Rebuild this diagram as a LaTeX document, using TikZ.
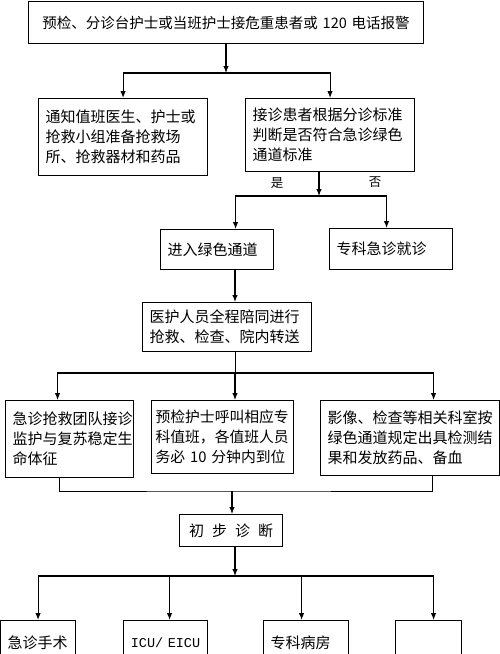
\documentclass[tikz,border=0pt]{standalone}
\usepackage{fontspec}
\newfontfamily\cjk{Noto Sans CJK SC}
\newfontfamily\monofont{Liberation Mono}
\usepackage{tikz}
\usetikzlibrary{arrows.meta}
\tikzset{box/.style={draw, line width=1.1pt, align=left, anchor=north west, inner xsep=7pt, inner ysep=2pt, font=\cjk\fontsize{15}{20}\selectfont}}
\tikzset{link/.style={->, line width=1.1pt}}
\tikzset{tag/.style={font=\cjk\fontsize{12.5}{14}\selectfont}}

\begin{document}
\begin{tikzpicture}[x=1pt, y=-1pt, >={Latex[length=7pt,width=5.5pt]}]
    \useasboundingbox[fill=white] (0,0) rectangle (500,654);

    \node[box, align=center, text width=381pt, minimum height=42pt, font=\cjk\fontsize{14.5}{20}\selectfont] at (28,1) (alarm){预检、分诊台护士或当班护士接危重患者或 120 电话报警};

    \node[box, text width=155pt, minimum height=77pt] at (38,98) (notify){通知值班医生、护士或\\抢救小组准备抢救场\\所、抢救器材和药品};
    \node[box, text width=155pt, minimum height=73pt] at (245,98) (judge){接诊患者根据分诊标准\\判断是否符合急诊绿色\\通道标准};

    \node[box, text width=99pt, minimum height=40pt] at (160,229) (green){进入绿色通道};
    \node[box, text width=109pt, minimum height=41pt] at (329,228) (special){专科急诊就诊};

    \node[box, text width=155pt, minimum height=49pt] at (142,302) (escort){医护人员全程陪同进行\\抢救、检查、院内转送};

    \node[box, text width=114pt, minimum height=77pt] at (5,400) (team){急诊抢救团队接诊\\监护与复苏稳定生\\命体征};
    \node[box, text width=134pt, inner xsep=4pt, minimum height=73pt, font=\cjk\fontsize{14.8}{20}\selectfont] at (151,400) (call){预检护士呼叫相应专\\科值班，各值班人员\\务必~10~分钟内到位};
    \node[box, text width=165pt, minimum height=75pt] at (320,400) (imaging){影像、检查等相关科室按\\绿色通道规定出具检测结\\果和发放药品、备血};

    \node[box, align=center, text width=89pt, minimum height=32pt] at (179,514) (diag){初\hspace{8pt}步\hspace{8pt}诊\hspace{8pt}断};

    \node[box, text width=61pt, minimum height=44pt] at (0,620) (surgery){急诊手术};
    \node[box, align=center, text width=70pt, minimum height=44pt, font=\monofont\fontsize{13.5}{16}\selectfont] at (123,620) (icu){ICU/ EICU};
    \node[box, text width=71pt, minimum height=44pt] at (263,620) (ward){专科病房};
    \node[box, text width=52pt, minimum height=44pt] at (395,620) (obs){};

    % junctions
    \coordinate (s1) at (226,73);
    \coordinate (s2) at (319,196);
    \coordinate (s3) at (235,373);
    \coordinate (s4) at (232,491);
    \coordinate (s5) at (235,576);

    \draw[link] (alarm.south -| s1) -- (s1);
    \draw[link] (s1) -| (notify.north);
    \draw[link] (s1) -| (judge.north);

    \draw[link] (judge.south -| s2) -- (s2);
    \draw[link] (s2) -| ([xshift=18.5pt]green.north);
    \draw[link] (s2) -| ([xshift=-4.5pt]special.north);
    \node[tag] at (277,183) (yes){是};
    \node[tag] at (375,182) (no){否};

    \draw[link] (green.south -| s3) -- (escort.north -| s3);

    \draw (escort.south -| s3) -- (s3);
    \draw[link] (s3) -- (call.north -| s3);
    \draw[link] (s3) -| ([xshift=-12pt]team.north);
    \draw[link] (s3) -| ([xshift=23.5pt]imaging.north);

    \draw ([xshift=-10pt]team.south) |- (s4) -| ([xshift=22.5pt]imaging.south);
    \draw[link] (s4) -- (diag.north -| s4);

    \draw[link] (diag.south -| s5) -- (s5);
    \draw[link] (s5) -| (surgery.north);
    \draw[link] (s5) -| ([xshift=4pt]icu.north);
    \draw[link] (s5) -| ([xshift=-4.5pt]ward.north);
    \draw[link] (s5) -| ([xshift=5pt]obs.north);
\end{tikzpicture}
\end{document}
